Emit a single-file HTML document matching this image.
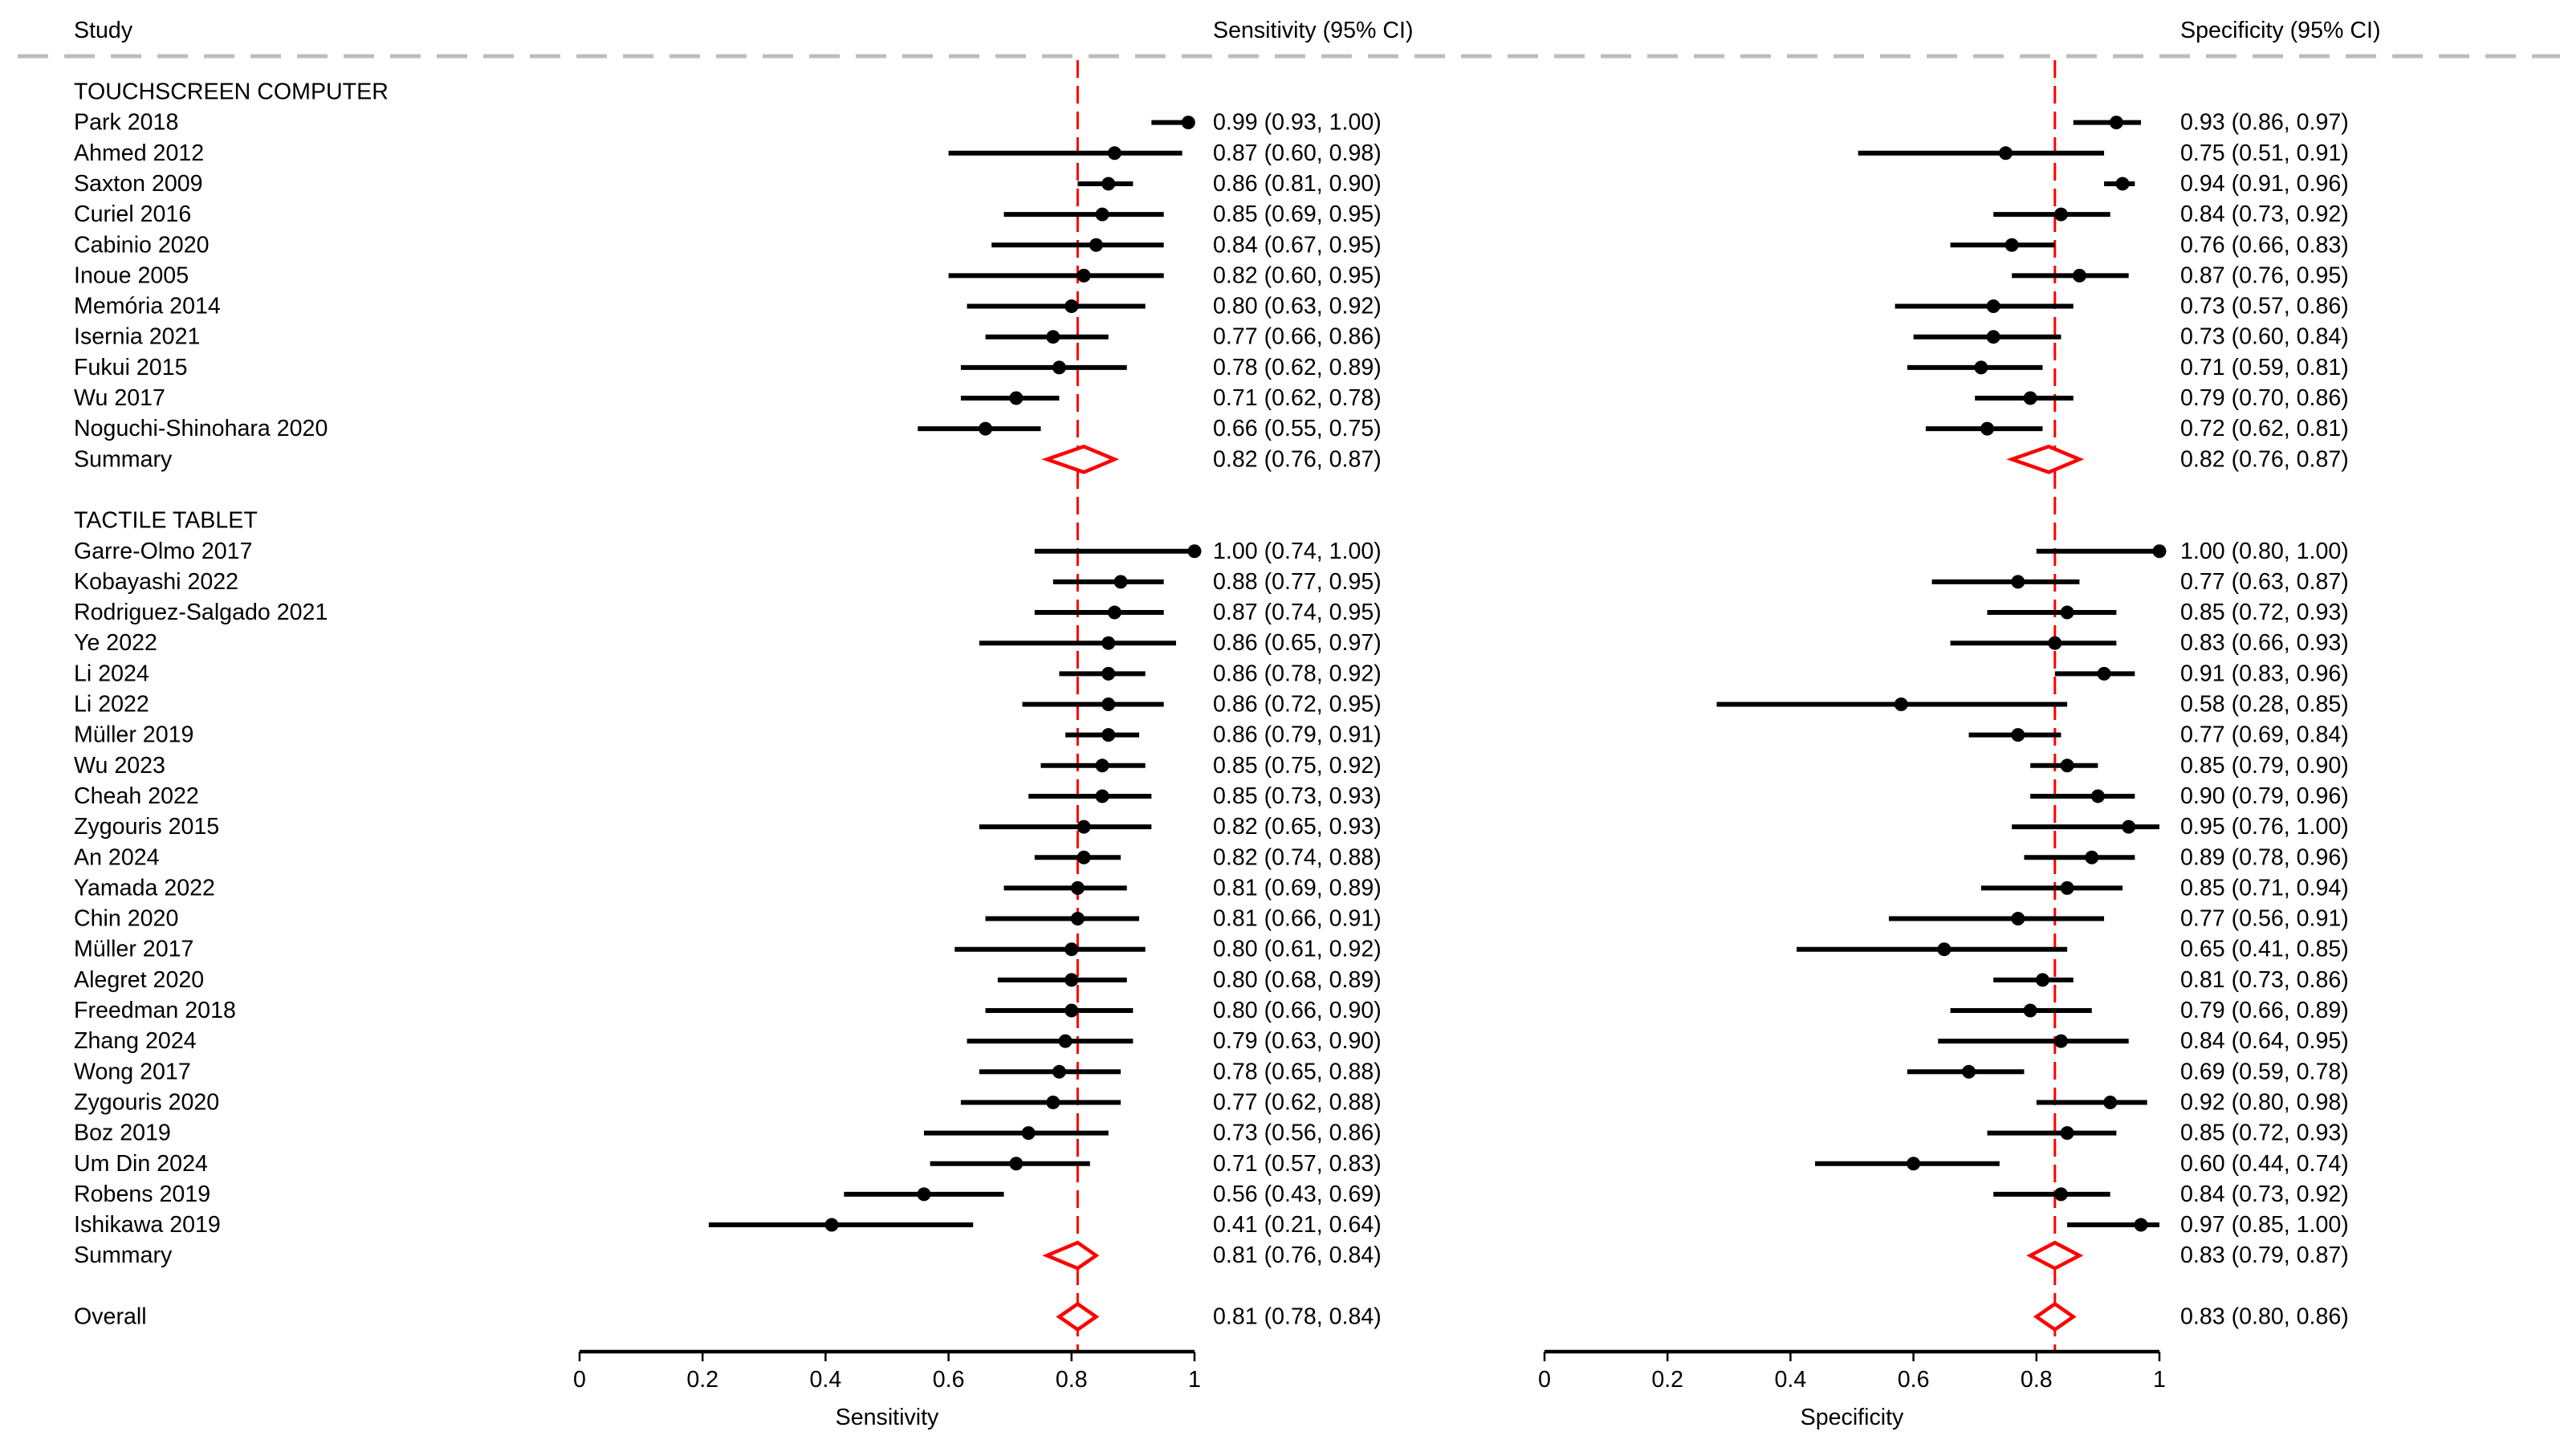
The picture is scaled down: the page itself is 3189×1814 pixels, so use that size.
<!DOCTYPE html>
<html><head><meta charset="utf-8"><style>
html,body{margin:0;padding:0;background:#fff}
svg{display:block}
text{font-family:"Liberation Sans",Arial,sans-serif;font-size:28.6px;fill:#000}
</style></head><body>
<svg id="chart" width="3189" height="1814" viewBox="0 0 3189 1814" xmlns="http://www.w3.org/2000/svg"></svg>
<script>
const studyNames1 = ["Park 2018","Ahmed 2012","Saxton 2009","Curiel 2016","Cabinio 2020","Inoue 2005","Memória 2014","Isernia 2021","Fukui 2015","Wu 2017","Noguchi-Shinohara 2020"];
const sens1 = [[0.99,0.93,1.00],[0.87,0.60,0.98],[0.86,0.81,0.90],[0.85,0.69,0.95],[0.84,0.67,0.95],[0.82,0.60,0.95],[0.80,0.63,0.92],[0.77,0.66,0.86],[0.78,0.62,0.89],[0.71,0.62,0.78],[0.66,0.55,0.75]];
const spec1 = [[0.93,0.86,0.97],[0.75,0.51,0.91],[0.94,0.91,0.96],[0.84,0.73,0.92],[0.76,0.66,0.83],[0.87,0.76,0.95],[0.73,0.57,0.86],[0.73,0.60,0.84],[0.71,0.59,0.81],[0.79,0.70,0.86],[0.72,0.62,0.81]];
const studyNames2 = ["Garre-Olmo 2017","Kobayashi 2022","Rodriguez-Salgado 2021","Ye 2022","Li 2024","Li 2022","Müller 2019","Wu 2023","Cheah 2022","Zygouris 2015","An 2024","Yamada 2022","Chin 2020","Müller 2017","Alegret 2020","Freedman 2018","Zhang 2024","Wong 2017","Zygouris 2020","Boz 2019","Um Din 2024","Robens 2019","Ishikawa 2019"];
const sens2 = [[1.00,0.74,1.00],[0.88,0.77,0.95],[0.87,0.74,0.95],[0.86,0.65,0.97],[0.86,0.78,0.92],[0.86,0.72,0.95],[0.86,0.79,0.91],[0.85,0.75,0.92],[0.85,0.73,0.93],[0.82,0.65,0.93],[0.82,0.74,0.88],[0.81,0.69,0.89],[0.81,0.66,0.91],[0.80,0.61,0.92],[0.80,0.68,0.89],[0.80,0.66,0.90],[0.79,0.63,0.90],[0.78,0.65,0.88],[0.77,0.62,0.88],[0.73,0.56,0.86],[0.71,0.57,0.83],[0.56,0.43,0.69],[0.41,0.21,0.64]];
const spec2 = [[1.00,0.80,1.00],[0.77,0.63,0.87],[0.85,0.72,0.93],[0.83,0.66,0.93],[0.91,0.83,0.96],[0.58,0.28,0.85],[0.77,0.69,0.84],[0.85,0.79,0.90],[0.90,0.79,0.96],[0.95,0.76,1.00],[0.89,0.78,0.96],[0.85,0.71,0.94],[0.77,0.56,0.91],[0.65,0.41,0.85],[0.81,0.73,0.86],[0.79,0.66,0.89],[0.84,0.64,0.95],[0.69,0.59,0.78],[0.92,0.80,0.98],[0.85,0.72,0.93],[0.60,0.44,0.74],[0.84,0.73,0.92],[0.97,0.85,1.00]];
const sensSummary = [[0.82,0.76,0.87],[0.81,0.76,0.84],[0.81,0.78,0.84]];
const specSummary = [[0.82,0.76,0.87],[0.83,0.79,0.87],[0.83,0.80,0.86]];
const refSens = 0.81, refSpec = 0.83;
const ticks = [0,0.2,0.4,0.6,0.8,1];
const tickLabels = ["0","0.2","0.4","0.6","0.8","1"];

const svg = document.getElementById('chart');
const NS = 'http://www.w3.org/2000/svg';
function mk(tag, attrs, parent){const e=document.createElementNS(NS,tag);for(const k in attrs)e.setAttribute(k,attrs[k]);(parent||svg).appendChild(e);return e;}
function txt(x,y,s,anchor){const t=mk('text',{x:x,y:y,'text-anchor':anchor||'start','dominant-baseline':'central'});t.textContent=s;return t;}
const xS = v => 722 + v*766;
const xP = v => 1924 + v*766;
const rowY = i => 114.5 + i*38.15;
const fmt = a => a[0].toFixed(2)+" ("+a[1].toFixed(2)+", "+a[2].toFixed(2)+")";

let t;
t=txt(92,38,"Study");


t=txt(1511,38,"Sensitivity (95% CI)");


t=txt(2716,38,"Specificity (95% CI)");


let l=mk('line',{x1:22,y1:70,x2:3189,y2:70,stroke:'#bdbdbd','stroke-width':5,'stroke-dasharray':'38 20'});



l=mk('line',{x1:xS(refSens),y1:75,x2:xS(refSens),y2:1684,stroke:'#f00','stroke-width':3,'stroke-dasharray':'22 10'});


l=mk('line',{x1:xP(refSpec),y1:75,x2:xP(refSpec),y2:1684,stroke:'#f00','stroke-width':3,'stroke-dasharray':'22 10'});



function study(row,name,s,p){
  const y=rowY(row);
  let e=txt(92,y,name);
  
  
  [[s,xS,1511],[p,xP,2716]].forEach(([d,sc,tx])=>{
    let ln=mk('line',{x1:sc(d[1]),y1:y,x2:sc(d[2]),y2:y,stroke:'#000','stroke-width':6});
    
    
    let c=mk('circle',{cx:sc(d[0]),cy:y,r:8.5,fill:'#000'});
    
    
    let v=txt(tx,y,fmt(d));
    
    
  });
}
function summary(row,name,s,p){
  const y=rowY(row);
  let e=txt(92,y,name);
  
  
  [[s,xS,1511],[p,xP,2716]].forEach(([d,sc,tx])=>{
    const pts=[[sc(d[1]),y],[sc(d[0]),y-16],[sc(d[2]),y],[sc(d[0]),y+16]].map(q=>q.join(',')).join(' ');
    let g=mk('polygon',{points:pts,fill:'#fff',stroke:'#f00','stroke-width':4.5});
    
    
    let v=txt(tx,y,fmt(d));
    
    
  });
}
t=txt(92,rowY(0),"TOUCHSCREEN COMPUTER");


studyNames1.forEach((n,i)=>study(1+i,n,sens1[i],spec1[i]));
summary(12,"Summary",sensSummary[0],specSummary[0]);
t=txt(92,rowY(14),"TACTILE TABLET");


studyNames2.forEach((n,i)=>study(15+i,n,sens2[i],spec2[i]));
summary(38,"Summary",sensSummary[1],specSummary[1]);
summary(40,"Overall",sensSummary[2],specSummary[2]);

[[xS,'sensitivity',"Sensitivity"],[xP,'specificity',"Specificity"]].forEach(([sc,nm,title])=>{
  let a=mk('line',{x1:sc(0),y1:1684,x2:sc(1),y2:1684,stroke:'#000','stroke-width':4.5});
  
  
  ticks.forEach((v,i)=>{
    let tk=mk('line',{x1:sc(v),y1:1684,x2:sc(v),y2:1696,stroke:'#000','stroke-width':2.5});
    
    
    let tl=txt(sc(v),1719,tickLabels[i],'middle');
    
    
  });
  let at=txt((sc(0)+sc(1))/2,1766,title,'middle');
  
  
});
</script>
</body></html>
